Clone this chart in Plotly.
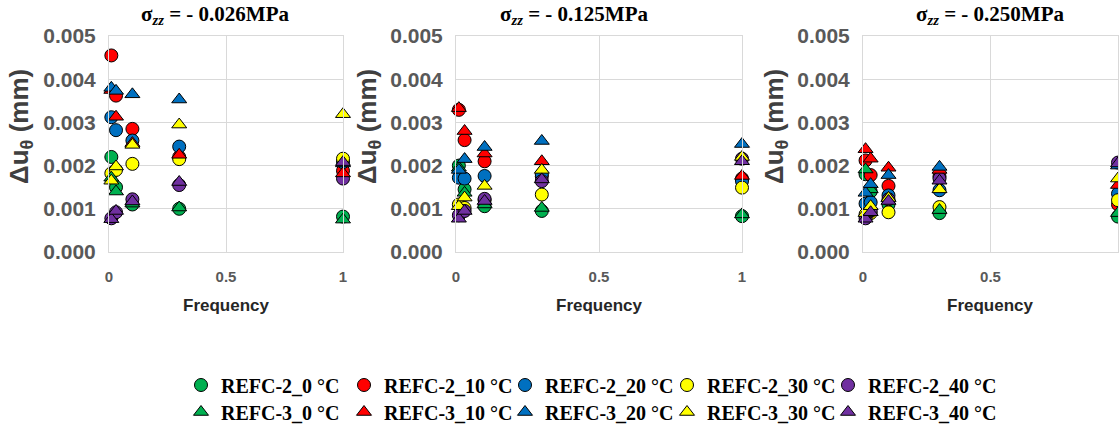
import plotly.graph_objects as go

W, H = 1119, 432

freq = [0.01, 0.03, 0.1, 0.3, 1.0]

series_names = [
    "REFC-2_0 °C", "REFC-2_10 °C", "REFC-2_20 °C", "REFC-2_30 °C", "REFC-2_40 °C",
    "REFC-3_0 °C", "REFC-3_10 °C", "REFC-3_20 °C", "REFC-3_30 °C", "REFC-3_40 °C",
]
panel_titles = ["- 0.026MPa", "- 0.125MPa", "- 0.250MPa"]

# values in 1e-3 mm, one list per series, per panel
p1_r2_0 = [2.20, 1.50, 1.10, 1.00, 0.82]
p1_r2_10 = [4.55, 3.62, 2.85, 2.20, 1.88]
p1_r2_20 = [3.12, 2.82, 2.58, 2.44, 2.08]
p1_r2_30 = [1.82, 1.90, 2.04, 2.15, 2.16]
p1_r2_40 = [0.78, 0.92, 1.22, 1.55, 1.70]
p1_r3_0 = [1.72, 1.40, 1.12, 1.03, 0.75]
p1_r3_10 = [3.75, 3.13, 2.52, 2.25, 1.82]
p1_r3_20 = [3.80, 3.73, 3.65, 3.53, 2.05]
p1_r3_30 = [1.65, 1.98, 2.48, 2.95, 3.19]
p1_r3_40 = [0.76, 0.95, 1.17, 1.62, 2.08]

p2_r2_0 = [2.00, 1.45, 1.06, 0.95, 0.83]
p2_r2_10 = [3.29, 2.59, 2.10, 1.75, 1.70]
p2_r2_20 = [1.72, 1.70, 1.76, 1.80, 1.64]
p2_r2_30 = [1.10, 1.02, 1.20, 1.33, 1.49]
p2_r2_40 = [0.85, 0.95, 1.23, 1.64, 2.16]
p2_r3_0 = [1.95, 1.37, 1.10, 1.02, 0.87]
p2_r3_10 = [3.33, 2.80, 2.28, 2.10, 1.76]
p2_r3_20 = [1.90, 2.15, 2.43, 2.57, 2.50]
p2_r3_30 = [1.06, 1.26, 1.53, 1.90, 2.20]
p2_r3_40 = [0.77, 0.95, 1.18, 1.68, 2.10]

p3_r2_0 = [1.80, 1.40, 1.10, 0.90, 0.82]
p3_r2_10 = [2.12, 1.78, 1.53, 1.75, 1.10]
p3_r2_20 = [1.12, 1.15, 1.31, 1.43, 1.35]
p3_r2_30 = [0.87, 0.90, 0.92, 1.04, 1.20]
p3_r2_40 = [0.78, 0.95, 1.22, 1.70, 2.07]
p3_r3_0 = [1.91, 1.45, 1.25, 0.97, 0.90]
p3_r3_10 = [2.38, 2.16, 1.95, 1.90, 1.55]
p3_r3_20 = [1.37, 1.57, 1.78, 1.97, 2.00]
p3_r3_30 = [0.90, 1.06, 1.25, 1.45, 1.70]
p3_r3_40 = [0.77, 0.92, 1.18, 1.65, 2.05]

panels = [
    [p1_r2_0, p1_r2_10, p1_r2_20, p1_r2_30, p1_r2_40, p1_r3_0, p1_r3_10, p1_r3_20, p1_r3_30, p1_r3_40],
    [p2_r2_0, p2_r2_10, p2_r2_20, p2_r2_30, p2_r2_40, p2_r3_0, p2_r3_10, p2_r3_20, p2_r3_30, p2_r3_40],
    [p3_r2_0, p3_r2_10, p3_r2_20, p3_r2_30, p3_r2_40, p3_r3_0, p3_r3_10, p3_r3_20, p3_r3_30, p3_r3_40],
]

colors = ["#00b050", "#ff0000", "#0070c0", "#ffff00", "#7030a0"] * 2
symbols = ["circle"] * 5 + ["triangle-up"] * 5

# layout geometry (pixels)
x_dom_px = [(109, 343), (456, 742), (863, 1118)]
y_top_px, y_bot_px = 36, 252
title_cx = [215, 574, 990]
ytitle_cx = [20, 368, 775]
legend_col_px = [181, 344, 505, 667, 828]   # left edge of each legend column
legend_row_px = [385, 412]                  # vertical centre of each legend row


def legend_id(i):
    return "legend" if i == 0 else "legend%d" % (i + 1)


fig = go.Figure()

for p, data in enumerate(panels):
    ax = "" if p == 0 else str(p + 1)
    for i, vals in enumerate(data):
        fig.add_trace(go.Scatter(
            x=freq,
            y=[v * 1e-3 for v in vals],
            mode="markers",
            name=series_names[i],
            showlegend=(p == 0),
            legend=legend_id(i),
            marker=dict(symbol=symbols[i], color=colors[i], size=13,
                        line=dict(color="black", width=1)),
            xaxis="x" + ax,
            yaxis="y" + ax,
            cliponaxis=False,
        ))

axis_common = dict(
    showgrid=True, gridcolor="#d9d9d9", gridwidth=1,
    showline=True, linecolor="#d9d9d9", linewidth=1, mirror=True,
    zeroline=False, ticks="",
)

layout = dict(
    width=W, height=H,
    margin=dict(l=0, r=0, t=0, b=0, autoexpand=False),
    paper_bgcolor="white", plot_bgcolor="white",
    font=dict(family="Liberation Sans, Arial, sans-serif"),
)

annotations = []
for p in range(3):
    ax = "" if p == 0 else str(p + 1)
    x0, x1 = x_dom_px[p]
    layout["xaxis" + ax] = dict(
        axis_common,
        domain=[x0 / W, x1 / W], range=[0, 1], tickvals=[0, 0.5, 1], ticktext=["0", "0.5", "1"],
        tickfont=dict(size=15, color="#595959", weight="bold"),
        ticklabelstandoff=11,
        anchor="y" + ax,
    )
    layout["yaxis" + ax] = dict(
        axis_common,
        domain=[(H - y_bot_px) / H, (H - y_top_px) / H], range=[0, 0.005], dtick=0.001,
        tickformat=".3f",
        tickfont=dict(size=21, color="#595959", weight="bold"),
        ticklabelstandoff=8,
        anchor="x" + ax,
    )
    annotations.append(dict(
        text="σ<sub><i>zz</i></sub> = " + panel_titles[p],
        x=title_cx[p] / W, y=(H - 15) / H, xref="paper", yref="paper",
        xanchor="center", yanchor="middle", showarrow=False,
        font=dict(family="Liberation Serif, Times New Roman, serif", size=21, color="black", weight="bold"),
    ))
    annotations.append(dict(
        text="Frequency",
        x=(x0 + x1) / 2 / W, y=(H - 305) / H, xref="paper", yref="paper",
        xanchor="center", yanchor="middle", showarrow=False,
        font=dict(size=17, color="#262626", weight="bold"),
    ))
    annotations.append(dict(
        text="Δu<sub>θ</sub> (mm)",
        x=ytitle_cx[p] / W, y=(H - 127) / H, xref="paper", yref="paper",
        xanchor="center", yanchor="middle", showarrow=False, textangle=-90,
        font=dict(size=26, color="#404040", weight="bold"),
    ))

legend_common = dict(
    orientation="h", xanchor="left", yanchor="middle",
    font=dict(family="Liberation Serif, Times New Roman, serif", size=20, color="black", weight="bold"),
    bgcolor="rgba(0,0,0,0)", itemclick=False, itemdoubleclick=False,
)
for i in range(10):
    col, row = i % 5, i // 5
    layout[legend_id(i)] = dict(
        legend_common,
        x=legend_col_px[col] / W,
        y=(H - legend_row_px[row]) / H,
    )
layout["annotations"] = annotations
layout["showlegend"] = True

fig.update_layout(**layout)
fig.write_html(
    "out.html",
    config={"displayModeBar": False},
    post_script="document.body.style.margin='0';document.body.style.overflow='hidden';",
)
